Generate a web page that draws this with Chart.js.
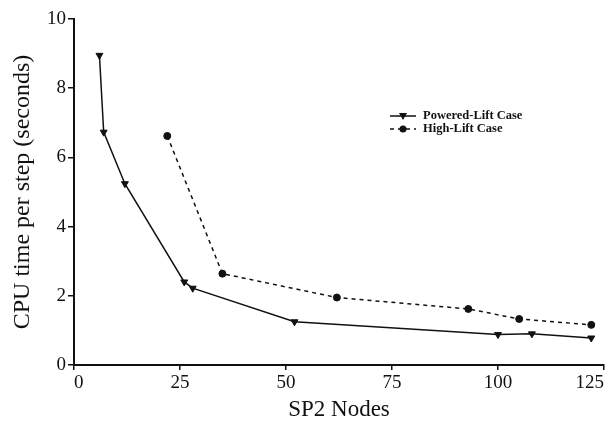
<!DOCTYPE html>
<html>
<head>
<meta charset="utf-8">
<script src="https://cdn.jsdelivr.net/npm/chart.js@4/dist/chart.umd.min.js"></script>
<style>
  body { margin: 0; background: #fff; }
  #wrap { width: 609px; height: 432px; }
</style>
</head>
<body>
<div id="wrap"><canvas id="cpu" width="609" height="432"></canvas></div>
<script>
const poweredNodes = [6, 7, 12, 26, 28, 52, 100, 108, 122];
const poweredTime = [8.95, 6.73, 5.24, 2.4, 2.22, 1.25, 0.88, 0.9, 0.78];
const highNodes = [22, 35, 62, 93, 105, 122];
const highTime = [6.62, 2.64, 1.95, 1.62, 1.33, 1.16];
const seriesNames = ["Powered-Lift Case", "High-Lift Case"];

const ink = "#111";
const serif = "'Liberation Serif', 'DejaVu Serif', serif";

const toPoints = (xs, ys) => xs.map((x, i) => ({ x, y: ys[i] }));

// legend sits inside the plot, so draw it by hand from the datasets
const insideLegend = {
  id: "insideLegend",
  afterDraw(chart) {
    const ctx = chart.ctx;
    const x0 = 390, x1 = 416, tx = 423;
    let y = 116;
    chart.data.datasets.forEach((ds) => {
      ctx.save();
      ctx.strokeStyle = ds.borderColor;
      ctx.lineWidth = 1.5;
      ctx.setLineDash(ds.borderDash || []);
      ctx.beginPath();
      ctx.moveTo(x0, y);
      ctx.lineTo(x1, y);
      ctx.stroke();
      ctx.setLineDash([]);
      ctx.fillStyle = ds.pointBackgroundColor;
      const mx = (x0 + x1) / 2;
      ctx.beginPath();
      if (ds.pointStyle === "triangle") {
        ctx.moveTo(mx - 4, y - 3);
        ctx.lineTo(mx + 4, y - 3);
        ctx.lineTo(mx, y + 4);
        ctx.closePath();
      } else {
        ctx.arc(mx, y, 3.5, 0, Math.PI * 2);
      }
      ctx.fill();
      ctx.font = "bold 12.5px " + serif;
      ctx.textAlign = "left";
      ctx.textBaseline = "middle";
      ctx.fillStyle = ink;
      ctx.fillText(ds.label, tx, y);
      ctx.restore();
      y += 13;
    });
  },
};

const noPad = (scale) => {
  scale.paddingTop = 0;
  scale.paddingBottom = 0;
  scale.paddingLeft = 0;
  scale.paddingRight = 0;
};

new Chart(document.getElementById("cpu"), {
  type: "scatter",
  data: {
    datasets: [
      {
        label: seriesNames[0],
        data: toPoints(poweredNodes, poweredTime),
        showLine: true,
        borderColor: ink,
        borderWidth: 1.5,
        pointStyle: "triangle",
        rotation: 180,
        pointRadius: 4,
        pointBackgroundColor: ink,
        pointBorderColor: ink,
        pointBorderWidth: 1,
      },
      {
        label: seriesNames[1],
        data: toPoints(highNodes, highTime),
        showLine: true,
        borderColor: ink,
        borderWidth: 1.5,
        borderDash: [4, 4],
        pointStyle: "circle",
        pointRadius: 3.5,
        pointBackgroundColor: ink,
        pointBorderColor: ink,
        pointBorderWidth: 1,
      },
    ],
  },
  options: {
    responsive: false,
    animation: false,
    layout: { padding: { left: 0, top: 19, right: 4, bottom: 0 } },
    plugins: {
      legend: { display: false },
      tooltip: { enabled: false },
    },
    scales: {
      x: {
        type: "linear",
        min: 0,
        max: 125,
        border: { display: true, color: ink, width: 2 },
        grid: { display: true, drawOnChartArea: false, color: ink, lineWidth: 1.5, tickLength: 5 },
        ticks: { stepSize: 25, align: "inner", color: ink, padding: 2, font: { family: serif, size: 19 } },
        title: {
          display: true,
          text: "SP2 Nodes",
          color: ink,
          font: { family: serif, size: 23 },
          padding: { top: 0, bottom: 8 },
        },
        afterFit(scale) {
          scale.height = 67;
          noPad(scale);
        },
      },
      y: {
        min: 0,
        max: 10,
        border: { display: true, color: ink, width: 2 },
        grid: { display: true, drawOnChartArea: false, color: ink, lineWidth: 1.5, tickLength: 6 },
        ticks: { stepSize: 2, color: ink, padding: 2, font: { family: serif, size: 19 } },
        title: {
          display: true,
          text: "CPU time per step (seconds)",
          color: ink,
          font: { family: serif, size: 24 },
          padding: { top: 8, bottom: 0 },
        },
        afterFit(scale) {
          scale.width = 74;
          noPad(scale);
        },
      },
    },
  },
  plugins: [insideLegend],
});
</script>
</body>
</html>
